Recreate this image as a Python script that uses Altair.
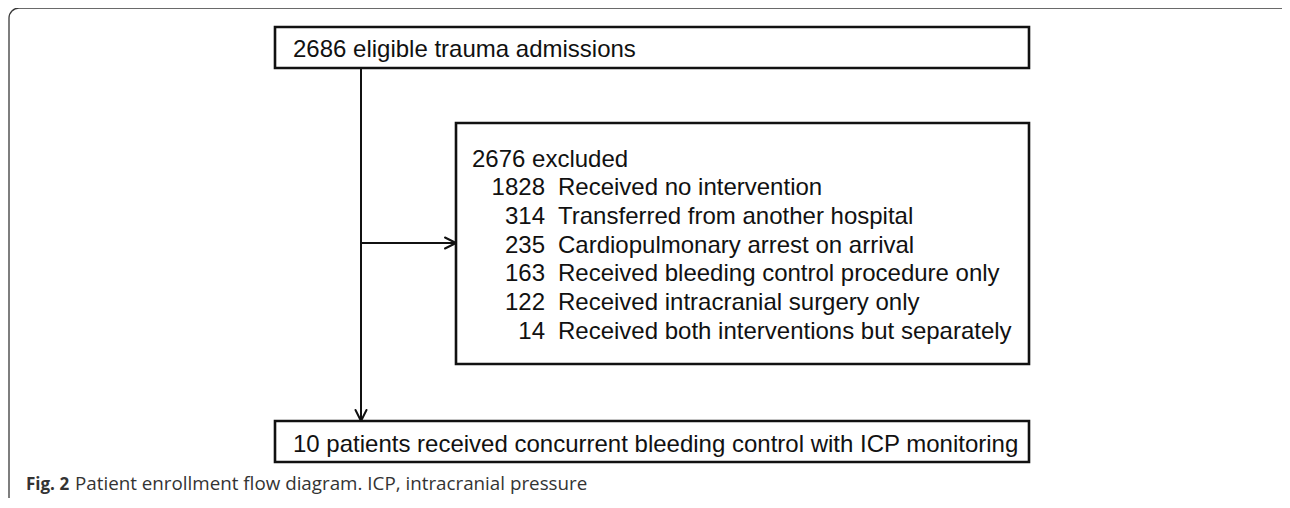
import altair as alt
import pandas as pd

# ---- content ----
top_label = "2686 eligible trauma admissions"
excluded_header = "2676 excluded"
excl_counts = [1828, 314, 235, 163, 122, 14]
excl_reasons = [
    "Received no intervention",
    "Transferred from another hospital",
    "Cardiopulmonary arrest on arrival",
    "Received bleeding control procedure only",
    "Received intracranial surgery only",
    "Received both interventions but separately",
]
final_label = "10 patients received concurrent bleeding control with ICP monitoring"
caption_bold = "Fig. 2"
caption_rest = "Patient enrollment flow diagram. ICP, intracranial pressure"

# ---- layout (pixel-like coordinate space) ----
W, H = 1274, 490
X0, Y0 = 8, 8
xs = alt.Scale(domain=[X0, X0 + W], nice=False, zero=False)
ys = alt.Scale(domain=[Y0, Y0 + H], nice=False, zero=False, reverse=True)

BOX_L, BOX_R = 275, 1029
TOP_T, TOP_B = 27, 68
EX_L, EX_T, EX_B = 456, 123, 364
BOT_T, BOT_B = 421, 462
STEM_X = 361
ARROW_Y = 243
LINE_H = 28.7

def X(f, **kw):
    return alt.X(f, type="quantitative", scale=xs, axis=None, **kw)

def Y(f, **kw):
    return alt.Y(f, type="quantitative", scale=ys, axis=None, **kw)

# outer rounded frame
frame = pd.DataFrame([{"x": 9, "x2": 1290, "y": 8, "y2": 507}])
frame_layer = alt.Chart(frame).mark_rect(
    fill="transparent", stroke="#3a3a3a", strokeWidth=1.3, cornerRadius=10, clip=False
).encode(x=X("x"), x2="x2", y=Y("y"), y2="y2")

# boxes
boxes = pd.DataFrame([
    {"x": BOX_L, "x2": BOX_R, "y": TOP_T, "y2": TOP_B},
    {"x": EX_L, "x2": BOX_R, "y": EX_T, "y2": EX_B},
    {"x": BOX_L, "x2": BOX_R, "y": BOT_T, "y2": BOT_B},
])
box_layer = alt.Chart(boxes).mark_rect(
    fill="white", stroke="#111111", strokeWidth=2.6
).encode(x=X("x"), x2="x2", y=Y("y"), y2="y2")

# connector lines + arrowheads
lines = pd.DataFrame([
    {"x": STEM_X, "y": TOP_B, "x2": STEM_X, "y2": BOT_T},
    {"x": STEM_X, "y": ARROW_Y, "x2": EX_L, "y2": ARROW_Y},
    # down arrow head
    {"x": STEM_X - 5.5, "y": BOT_T - 11, "x2": STEM_X, "y2": BOT_T},
    {"x": STEM_X + 5.5, "y": BOT_T - 11, "x2": STEM_X, "y2": BOT_T},
    # right arrow head
    {"x": EX_L - 11, "y": ARROW_Y - 5.5, "x2": EX_L, "y2": ARROW_Y},
    {"x": EX_L - 11, "y": ARROW_Y + 5.5, "x2": EX_L, "y2": ARROW_Y},
])
line_layer = alt.Chart(lines).mark_rule(
    color="#111111", strokeWidth=2, strokeCap="round"
).encode(x=X("x"), y=Y("y"), x2="x2", y2="y2")

FONT = "Liberation Sans"
FS = 24

main_text = pd.DataFrame([
    {"x": 293, "y": 56.5, "t": top_label},
    {"x": 293, "y": 451.5, "t": final_label},
    {"x": 472, "y": 166.5, "t": excluded_header},
])
main_layer = alt.Chart(main_text).mark_text(
    align="left", baseline="alphabetic", font=FONT, fontSize=FS, color="#111111"
).encode(x=X("x"), y=Y("y"), text="t:N")

rows = pd.DataFrame({
    "n": [str(c) for c in excl_counts],
    "r": excl_reasons,
    "i": list(range(len(excl_counts))),
})
rows["y"] = 166.5 + (rows["i"] + 1) * LINE_H
rows["xn"] = 545
rows["xr"] = 558
num_layer = alt.Chart(rows).mark_text(
    align="right", baseline="alphabetic", font=FONT, fontSize=FS, color="#111111"
).encode(x=X("xn"), y=Y("y"), text="n:N")
reason_layer = alt.Chart(rows).mark_text(
    align="left", baseline="alphabetic", font=FONT, fontSize=FS, color="#111111"
).encode(x=X("xr"), y=Y("y"), text="r:N")

CAP_FS = 18
cap = pd.DataFrame([{"x": 26, "y": 490, "t": caption_bold}])
cap2 = pd.DataFrame([{"x": 75, "y": 490, "t": caption_rest}])
cap_layer = alt.Chart(cap).mark_text(
    align="left", baseline="alphabetic", font="Open Sans", fontSize=17,
    fontWeight="bold", color="#333333"
).encode(x=X("x"), y=Y("y"), text="t:N")
cap2_layer = alt.Chart(cap2).mark_text(
    align="left", baseline="alphabetic", font="Open Sans", fontSize=CAP_FS + 0.8,
    color="#333333"
).encode(x=X("x"), y=Y("y"), text="t:N")

chart = alt.layer(
    frame_layer, box_layer, line_layer, main_layer, num_layer, reason_layer,
    cap_layer, cap2_layer
).properties(
    width=W, height=H, padding=0, autosize=alt.AutoSizeParams(type="none"),
    background="white",
).configure_view(stroke=None)

chart.save("out.html", embed_options={"renderer": "svg", "actions": False})
